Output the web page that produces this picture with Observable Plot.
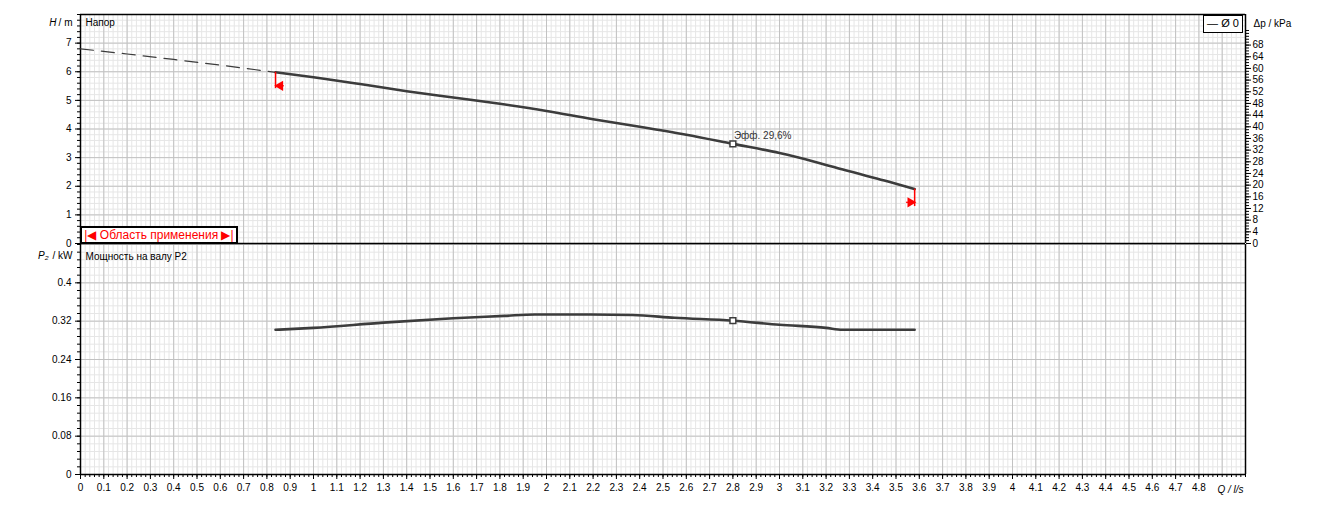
<!DOCTYPE html>
<html><head><meta charset="utf-8">
<script src="https://cdn.jsdelivr.net/npm/d3@7"></script>
<script src="https://cdn.jsdelivr.net/npm/@observablehq/plot@0.6"></script>
<style>
body{margin:0;background:#fff;}
#wrap{position:relative;width:1323px;height:508px;overflow:hidden;background:#fff;font-family:"Liberation Sans",Arial,sans-serif;}
#wrap svg{display:block;}
#wrap svg.topp{overflow:visible;position:relative;z-index:1;}
.box{position:absolute;z-index:2;background:#fff;border:1.5px solid #000;box-sizing:border-box;font-size:11px;line-height:14px;white-space:nowrap;}
</style></head>
<body><div id="wrap"></div>
<script>
// ---- data ----
const Q_H   = [0.837, 1.0, 1.2, 1.4, 1.6, 1.8, 2.0, 2.2, 2.4, 2.6, 2.8, 3.0, 3.15, 3.3, 3.45, 3.58];
const H_M   = [5.98, 5.81, 5.57, 5.32, 5.10, 4.88, 4.63, 4.34, 4.08, 3.80, 3.48, 3.16, 2.86, 2.52, 2.20, 1.90];
const Q_DASH = [0, 0.2, 0.4, 0.6, 0.837];
const H_DASH = [6.80, 6.62, 6.43, 6.23, 5.98];
const Q_P   = [0.837, 1.0, 1.3, 1.6, 1.82, 1.95, 2.19, 2.37, 2.55, 2.8, 3.0, 3.2, 3.27, 3.58];
const P_KW  = [0.302, 0.306, 0.317, 0.326, 0.331, 0.334, 0.334, 0.333, 0.327, 0.321, 0.3125, 0.306, 0.302, 0.302];
const BEP_Q = 2.8, BEP_H = 3.48, BEP_P = 0.321;
const EFF_LABEL = "Эфф. 29,6%";
const RANGE_Q = [0.837, 3.58];
const X_TICKS = d3.range(0, 49).map(i => i / 10);
const H_TICKS = [0, 1, 2, 3, 4, 5, 6, 7];
const KPA_TICKS = d3.range(0, 69, 4);
const P_TICKS = [0, 0.08, 0.16, 0.24, 0.32, 0.4];

const font = "Liberation Sans, Arial, sans-serif";
const X_MINOR = d3.range(0, 251).map(i => i / 50);
const X_MAJOR = d3.range(0, 51).map(i => i / 10);
const H_MINOR = d3.range(0, 41).map(i => i / 5);
const H_MAJOR = d3.range(0, 9);
const KPA_MINOR = d3.range(0, 79, 1);
const P_MINOR = d3.range(0, 31).map(i => i * 0.016);
const P_MAJOR = d3.range(0, 7).map(i => i * 0.08);
const G_MINOR = "#e6e6e6", G_MAJOR = "#c2c2c2", CURVE = "#3c3c3c";

const hData = Q_H.map((q, i) => ({q, h: H_M[i]}));
const dData = Q_DASH.map((q, i) => ({q, h: H_DASH[i]}));
const pData = Q_P.map((q, i) => ({q, p: P_KW[i]}));

const topPlot = Plot.plot({
  className: "topp",
  width: 1323, height: 244, marginLeft: 80, marginRight: 78, marginTop: 14, marginBottom: 1,
  x: {domain: [0, 5], axis: null},
  y: {domain: [0, 8], axis: null},
  style: {fontFamily: font, fontSize: "10px", background: "transparent", color: "#000", overflow: "visible"},
  marks: [
    Plot.ruleX(X_MINOR, {stroke: G_MINOR}),
    Plot.ruleY(H_MINOR, {stroke: G_MINOR}),
    Plot.ruleX(X_MAJOR, {stroke: G_MAJOR}),
    Plot.ruleY(H_MAJOR, {stroke: G_MAJOR}),
    Plot.axisY({anchor: "left", ticks: H_TICKS, tickSize: 5, tickPadding: 4, label: null, tickFormat: d => String(d)}),
    Plot.axisY({anchor: "left", ticks: H_MINOR, tickSize: 3, text: null, label: null}),
    Plot.axisY({anchor: "right", ticks: KPA_TICKS.map(k => k / 9.81), tickSize: 5, tickPadding: 2, label: null, tickFormat: d => String(Math.round(d * 9.81))}),
    Plot.axisY({anchor: "right", ticks: KPA_MINOR.map(k => k / 9.81).filter(v => v <= 7.5), tickSize: 3, text: null, label: null}),
    Plot.ruleX([0, 5], {stroke: "#000", strokeWidth: 1.5}),
    Plot.ruleY([0, 8], {stroke: "#000", strokeWidth: 1.5}),
    Plot.line(dData, {x: "q", y: "h", stroke: CURVE, strokeWidth: 1.2, strokeDasharray: "13,8", curve: "monotone-x"}),
    Plot.line(hData, {x: "q", y: "h", stroke: CURVE, strokeWidth: 2.6, curve: "monotone-x"}),
    Plot.ruleX([{q: RANGE_Q[0], a: 5.41, b: 5.98}, {q: RANGE_Q[1], a: 1.29, b: 1.90}], {x: "q", y1: "a", y2: "b", stroke: "red", strokeWidth: 1.5}),
    Plot.ruleY([{h: 5.51, a: RANGE_Q[0], b: 0.875}, {h: 1.44, a: 3.545, b: RANGE_Q[1]}], {y: "h", x1: "a", x2: "b", stroke: "red", strokeWidth: 1.2}),
    Plot.dot([{q: 0.857, h: 5.51, r: -90}, {q: 3.562, h: 1.44, r: 90}], {x: "q", y: "h", rotate: "r", symbol: "triangle", r: 3.8, fill: "red", stroke: "none"}),
    Plot.dot([{q: BEP_Q, h: BEP_H}], {x: "q", y: "h", symbol: "square", r: 3.3, fill: "#fff", stroke: CURVE, strokeWidth: 1.5}),
    Plot.text([{q: BEP_Q, h: BEP_H}], {x: "q", y: "h", text: () => EFF_LABEL, textAnchor: "start", dx: 1, dy: -8, fill: "#333", fontSize: 10}),
    Plot.text(["Напор"], {frameAnchor: "top-left", dx: 5, dy: 4, textAnchor: "start", lineAnchor: "top", fill: "#000", fontSize: 10}),
    Plot.text([{q: 0, h: 8}], {x: "q", y: "h", text: () => "/ m", textAnchor: "end", dx: -8, dy: 8, fontSize: 10}),
    Plot.text([{q: 0, h: 8}], {x: "q", y: "h", text: () => "H", textAnchor: "end", dx: -24, dy: 8, fontSize: 10, fontStyle: "italic"}),
    Plot.text([{q: 5, h: 8}], {x: "q", y: "h", text: () => "Δp / kPa", textAnchor: "start", dx: 8, dy: 9, fontSize: 10})
  ]
});

const bottomPlot = Plot.plot({
  width: 1323, height: 264, marginLeft: 80, marginRight: 78, marginTop: 0, marginBottom: 34,
  x: {domain: [0, 5], axis: null},
  y: {domain: [0, 0.48], axis: null},
  style: {fontFamily: font, fontSize: "10px", background: "transparent", color: "#000"},
  marks: [
    Plot.ruleX(X_MINOR, {stroke: G_MINOR}),
    Plot.ruleY(P_MINOR, {stroke: G_MINOR}),
    Plot.ruleX(X_MAJOR, {stroke: G_MAJOR}),
    Plot.ruleY(P_MAJOR, {stroke: G_MAJOR}),
    Plot.axisY({anchor: "left", ticks: P_TICKS, tickSize: 5, tickPadding: 4, label: null, tickFormat: d => String(d)}),
    Plot.axisY({anchor: "left", ticks: P_MINOR, tickSize: 3, text: null, label: null}),
    Plot.axisX({anchor: "bottom", ticks: X_TICKS, tickSize: 5, tickPadding: 4, label: null, tickFormat: d => String(d)}),
    Plot.axisX({anchor: "bottom", ticks: X_MINOR, tickSize: 3, text: null, label: null}),
    Plot.ruleX([0, 5], {stroke: "#000", strokeWidth: 1.5}),
    Plot.ruleY([0], {stroke: "#000", strokeWidth: 1.5}),
    Plot.line(pData, {x: "q", y: "p", stroke: CURVE, strokeWidth: 2.6, curve: "monotone-x"}),
    Plot.dot([{q: BEP_Q, p: BEP_P}], {x: "q", y: "p", symbol: "square", r: 3.3, fill: "#fff", stroke: CURVE, strokeWidth: 1.5}),
    Plot.text(["Мощность на валу P2"], {frameAnchor: "top-left", dx: 5, dy: 8, textAnchor: "start", lineAnchor: "top", fill: "#000", fontSize: 10}),
    Plot.text([{q: 0, p: 0.48}], {x: "q", y: "p", text: () => "/ kW", textAnchor: "end", dx: -8, dy: 11, fontSize: 10}),
    Plot.text([{q: 0, p: 0.48}], {x: "q", y: "p", text: () => "P₂", textAnchor: "end", dx: -32, dy: 11, fontSize: 10, fontStyle: "italic"}),
    Plot.text([{q: 5, p: 0}], {x: "q", y: "p", text: () => "Q / l/s", textAnchor: "end", dx: -2, dy: 15, fontSize: 10, fontStyle: "italic"})
  ]
});

const wrap = document.getElementById("wrap");
wrap.appendChild(topPlot);
wrap.appendChild(bottomPlot);

const legend = document.createElement("div");
legend.className = "box";
legend.style.cssText = "left:1203px;top:15px;width:40px;height:18px;text-align:center;";
legend.textContent = "— Ø 0";
wrap.appendChild(legend);

const area = document.createElement("div");
area.className = "box";
area.style.cssText = "left:80px;top:226px;width:158px;height:18px;color:red;text-align:center;border-width:2px;font-size:12px;line-height:14px;";
area.textContent = "|◀ Область применения ▶|";
wrap.appendChild(area);
</script></body></html>
